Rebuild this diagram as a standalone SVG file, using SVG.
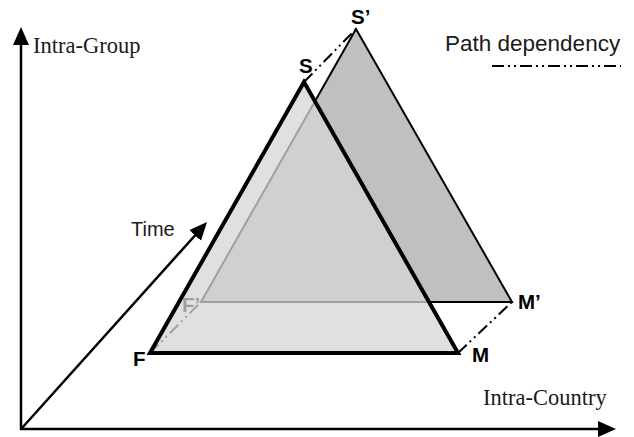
<svg xmlns="http://www.w3.org/2000/svg" width="634" height="437" viewBox="0 0 634 437">
  <defs>
    <marker id="ah" viewBox="0 0 18 16" markerUnits="userSpaceOnUse" markerWidth="18" markerHeight="16" refX="10" refY="8" orient="auto">
      <path d="M0,0 L18,8 L0,16 z" fill="#000"/>
    </marker>
    <style>
      .axis { stroke:#000; stroke-width:2.5; fill:none; }
      .serif { font-family:"Liberation Serif","Times New Roman",serif; font-size:22.5px; fill:#1a1a1a; }
      .sans { font-family:"Liberation Sans",Arial,sans-serif; fill:#1a1a1a; }
      .lbl { font-family:"Liberation Sans",Arial,sans-serif; font-weight:bold; font-size:20.5px; fill:#000; }
      .pd { stroke:#000; stroke-width:2; fill:none; stroke-dasharray:12 4 2 4 2 4; }
    </style>
  </defs>
  <rect width="634" height="437" fill="#fff"/>

  <g id="axes">
    <line class="axis" x1="21" y1="430" x2="21" y2="35" marker-end="url(#ah)"/>
    <line class="axis" x1="20" y1="429" x2="608" y2="429" marker-end="url(#ah)"/>
    <line class="axis" x1="22" y1="428" x2="201.7" y2="228" marker-end="url(#ah)"/>
    <text class="serif" x="33" y="53">Intra-Group</text>
    <text class="serif" x="483" y="405">Intra-Country</text>
    <text class="sans" x="131" y="236" font-size="20">Time</text>
  </g>

  <g id="back-triangle">
    <polygon points="356,29 201,302 512,302" fill="#c0c0c0" stroke="#000" stroke-width="2" stroke-linejoin="miter"/>
    <text class="lbl" x="351" y="24">S’</text>
    <text class="lbl" x="182" y="312">F’</text>
    <text class="lbl" x="518" y="309">M’</text>
  </g>

  <g id="connectors">
    <line class="pd" x1="304" y1="82" x2="356" y2="29"/>
    <line class="pd" x1="150" y1="353" x2="201" y2="302"/>
    <line class="pd" x1="458" y1="353" x2="512" y2="302"/>
  </g>

  <g id="front-triangle">
    <polygon points="304,82 150,353 458,353" fill="#d5d5d5" fill-opacity="0.75" stroke="#000" stroke-width="4" stroke-linejoin="miter"/>
    <text class="lbl" x="299" y="73">S</text>
    <text class="lbl" x="133" y="366">F</text>
    <text class="lbl" x="472" y="362">M</text>
  </g>

  <g id="legend">
    <text class="sans" x="445" y="51" font-size="22.5">Path dependency</text>
    <line class="pd" x1="492" y1="66" x2="621" y2="66"/>
  </g>
</svg>
